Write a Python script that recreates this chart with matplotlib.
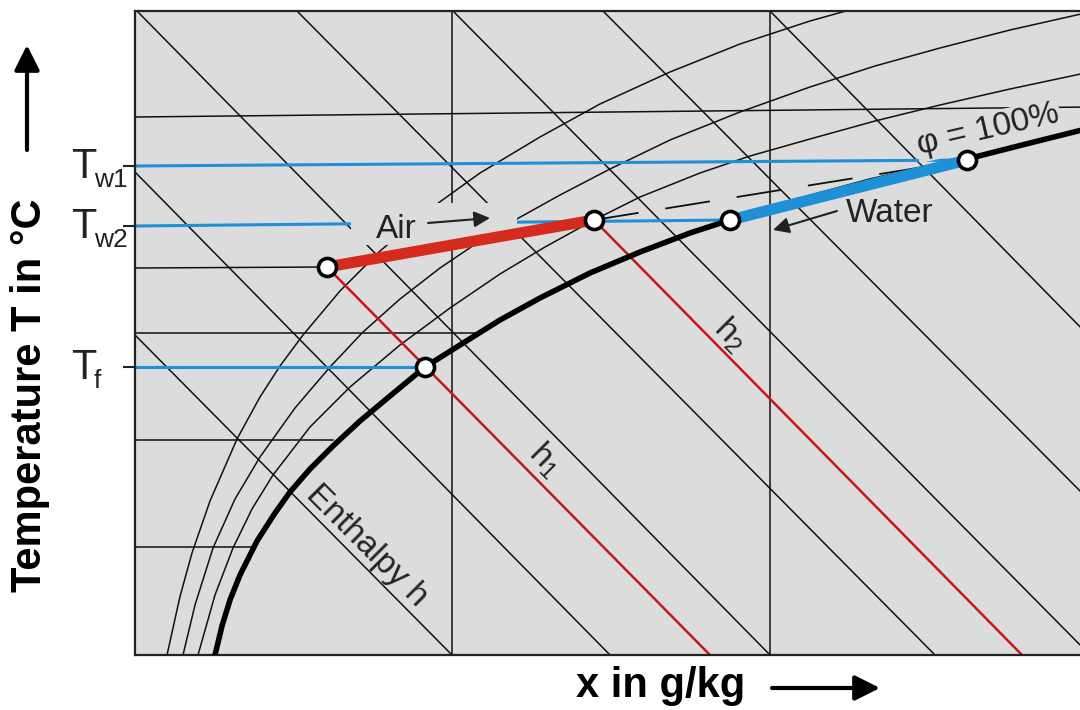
import matplotlib
matplotlib.use("Agg")
import matplotlib.pyplot as plt
from matplotlib.patches import Rectangle

plt.rcParams['font.family'] = ['Liberation Sans', 'DejaVu Sans']
plt.rcParams['mathtext.fontset'] = 'custom'
plt.rcParams['mathtext.rm'] = 'Liberation Sans'
plt.rcParams['mathtext.it'] = 'Liberation Sans:italic'

# chart range (x in g/kg, T in deg C, schematic units)
x_max = 95.5
T_max = 64.4

# saturation line, phi = 100 %
sat_x = [8.0, 8.7, 9.5, 10.5, 12.2, 14.0, 15.5, 17.5, 19.8, 22.5, 25.5, 29.0, 32.5, 36.5,
         40.5, 45.5, 50.5, 55.5, 59.5, 66.5, 73.5, 83.2, 89.5, 95.5]
sat_T = [0.0, 2.9, 5.5, 8.0, 11.4, 14.2, 16.3, 18.6, 20.9, 23.4, 25.9, 28.8, 31.0, 33.5,
         35.7, 38.2, 40.3, 42.2, 43.5, 45.5, 47.4, 49.6, 51.2, 52.7]

# lines of constant relative humidity below saturation
phi1_x = [3.2, 4.5, 5.7, 7.5, 10.2, 12.5, 14.5, 16.8, 20.5, 24.5, 29.5, 34.5, 40.5, 46.5,
          53.5, 60.5, 67.5, 71.8]
phi1_T = [0.0, 5.85, 10.2, 15.4, 21.6, 25.8, 28.9, 32.0, 36.4, 40.4, 44.6, 48.2, 51.8, 55.1,
          58.3, 61.1, 63.4, 64.6]
phi2_x = [4.8, 6.0, 7.8, 10.0, 12.5, 16.0, 19.5, 22.8, 26.5, 30.5, 34.5, 38.0, 42.5, 47.5,
          53.5, 60.5, 67.5, 74.0, 80.5, 87.5, 95.5]
phi2_T = [0.0, 5.0, 10.7, 15.6, 19.8, 24.7, 28.8, 32.3, 35.6, 38.7, 41.4, 43.5, 46.0, 48.6,
          51.5, 54.3, 56.8, 58.9, 60.7, 62.5, 64.3]
phi3_x = [6.3, 8.0, 9.8, 11.7, 13.8, 17.5, 21.5, 26.5, 31.5, 36.5, 41.0, 45.9, 50.5, 56.5,
          61.5, 67.5, 74.0, 80.5, 87.5, 95.5]
phi3_T = [0.0, 6.0, 10.7, 14.6, 18.0, 22.8, 26.8, 31.0, 34.7, 38.1, 40.8, 43.5, 45.8, 48.2,
          49.9, 51.6, 53.4, 55.0, 56.6, 58.3]

# isotherms (start and end)
iso_x0 = [0, 0, 0, 0, 0]
iso_T0 = [53.8, 38.7, 32.2, 21.5, 10.8]
iso_x1 = [95.5, 19.2, 34.2, 19.8, 12.0]
iso_T1 = [54.8, 38.8, 32.2, 21.5, 10.8]

# lines of constant x
x_lines = [31.7, 63.5]

# lines of constant enthalpy
enth_x0 = [0.0, 0.0, 0.2, 16.2, 31.8, 46.8, 63.5]
enth_T0 = [32.0, 48.3, 64.4, 64.4, 64.4, 64.4, 64.4]
enth_x1 = [31.7, 47.5, 63.5, 80.0, 95.5, 95.5, 95.5]
enth_T1 = [0.0, 0.0, 0.0, 0.0, 0.0, 15.4, 31.8]

# air: inlet -> outlet, water: outlet -> inlet
air_x = [19.2, 45.9]
air_T = [38.8, 43.5]
water_x = [59.5, 83.2]
water_T = [43.5, 49.5]
tf_x = 29.0
tf_T = 28.8

# enthalpy h1, h2 through the air states
h_x0 = [19.2, 45.9]
h_T0 = [38.8, 43.5]
h_x1 = [57.5, 88.7]
h_T1 = [0.0, 0.0]

# water temperatures Tw1, Tw2, Tf
tw_sub = ['w1', 'w2', 'f']
tw_T0 = [48.9, 42.9, 28.8]
tw_x1 = [83.2, 59.5, 29.0]
tw_T1 = [49.5, 43.5, 28.8]

bg = '#dcdcdc'
blue = '#1f8fd6'
red = '#d52b1e'
dark_red = '#c41a16'
ink = '#111111'
txt = '#222222'

fig = plt.figure(figsize=(10.8, 7.1), dpi=100)
ax = fig.add_axes([135 / 1080, 55 / 710, 955 / 1080, 644 / 710])
ax.set_facecolor(bg)
ax.set_xlim(0, x_max)
ax.set_ylim(0, T_max)
for s in ax.spines.values():
    s.set_linewidth(1.6)
    s.set_color('#222222')

# grid of the h-x chart
for xv in x_lines:
    ax.plot([xv, xv], [0, T_max], color=ink, lw=1.1, zorder=1)
for a, b, c, d in zip(iso_x0, iso_T0, iso_x1, iso_T1):
    ax.plot([a, c], [b, d], color=ink, lw=1.1, zorder=1)
for a, b, c, d in zip(enth_x0, enth_T0, enth_x1, enth_T1):
    ax.plot([a, c], [b, d], color=ink, lw=1.1, zorder=1)
for px, pt in [(phi1_x, phi1_T), (phi2_x, phi2_T), (phi3_x, phi3_T)]:
    ax.plot(px, pt, color=ink, lw=1.1, zorder=1)

# water temperature lines
for t0, x1, t1 in zip(tw_T0, tw_x1, tw_T1):
    ax.plot([0, x1], [t0, t1], color=blue, lw=2.2, zorder=2)

# h1 and h2
for a, b, c, d in zip(h_x0, h_T0, h_x1, h_T1):
    ax.plot([a, c], [b, d], color=dark_red, lw=1.8, zorder=2)

# background behind the "Air" label
ax.add_patch(Rectangle((21.6, 41.0), 16.6, 4.2, facecolor=bg, edgecolor='none', zorder=3))

ax.plot(sat_x, sat_T, color='black', lw=4, zorder=4, solid_joinstyle='round')
ax.plot([air_x[1], water_x[1]], [air_T[1], water_T[1]], color=ink, lw=1.3,
        dashes=(25, 15), zorder=4)
ax.plot(air_x, air_T, color=red, lw=8, zorder=5, solid_capstyle='butt')
ax.plot(water_x, water_T, color=blue, lw=8, zorder=5, solid_capstyle='butt')

ax.plot(air_x + water_x + [tf_x], air_T + water_T + [tf_T], 'o', ms=13,
        mfc='white', mec='black', mew=2.6, zorder=8)

# labels inside the chart
ax.text(26.1, 42.6, 'Air', fontsize=24, ha='center', va='center', color=txt, zorder=7)
ax.annotate('', xy=(35.5, 43.7), xytext=(29.3, 43.2),
            arrowprops=dict(arrowstyle='-|>', lw=1.5, color=txt, mutation_scale=24,
                            shrinkA=0, shrinkB=0), zorder=7)
ax.text(75.5, 44.2, 'Water', fontsize=24, ha='center', va='center', color=txt, zorder=7)
ax.annotate('', xy=(63.8, 42.5), xytext=(70.2, 44.4),
            arrowprops=dict(arrowstyle='-|>', lw=1.5, color=txt, mutation_scale=24,
                            shrinkA=0, shrinkB=0), zorder=7)
ax.text(85.3, 52.5, 'φ = 100%', fontsize=24, ha='center', va='center', rotation=13,
        rotation_mode='anchor', color=txt, zorder=7,
        bbox=dict(boxstyle='square,pad=0.05', facecolor=bg, edgecolor='none'))
ax.text(41.0, 19.5, r'h$_1$', fontsize=24, ha='center', va='center', rotation=-45,
        rotation_mode='anchor', color=txt, zorder=7)
ax.text(59.5, 32.0, r'h$_2$', fontsize=24, ha='center', va='center', rotation=-45,
        rotation_mode='anchor', color=txt, zorder=7)
ax.text(23.2, 10.9, 'Enthalpy h', fontsize=24, ha='center', va='center', rotation=-45,
        rotation_mode='anchor', color=txt, zorder=7)

# axis ticks for the water temperatures, labelled T with a small subscript
ax.set_xticks([])
ax.set_yticks(tw_T0, labels=[''] * len(tw_T0))
ax.tick_params(axis='y', direction='out', length=9, width=1.5, color='#222222')
for t0, sub in zip(tw_T0, tw_sub):
    ax.annotate('T', xy=(0, t0), xycoords=('axes fraction', 'data'), xytext=(-39, -12),
                textcoords='offset pixels', ha='right', va='baseline', fontsize=30, color=txt)
    ax.annotate(sub, xy=(0, t0), xycoords=('axes fraction', 'data'), xytext=(-41, -21),
                textcoords='offset pixels', ha='left', va='baseline', fontsize=19, color=txt)

fig.text(30 / 1080, 1 - 395 / 710, 'Temperature T in °C', rotation=90, fontsize=30,
         fontweight='bold', ha='center', va='center')
fig.text(661 / 1080, 1 - 686 / 710, 'x in g/kg', fontsize=30, fontweight='bold',
         ha='center', va='center')
ax.annotate('', xy=(27 / 1080, 1 - 45 / 710), xytext=(27 / 1080, 1 - 150 / 710),
            xycoords='figure fraction', textcoords='figure fraction',
            arrowprops=dict(arrowstyle='-|>', lw=3, color='black', mutation_scale=38,
                            shrinkA=0, shrinkB=0))
ax.annotate('', xy=(880 / 1080, 1 - 688 / 710), xytext=(772 / 1080, 1 - 688 / 710),
            xycoords='figure fraction', textcoords='figure fraction',
            arrowprops=dict(arrowstyle='-|>', lw=3, color='black', mutation_scale=38,
                            shrinkA=0, shrinkB=0))

fig.savefig('out.png', dpi=100)
